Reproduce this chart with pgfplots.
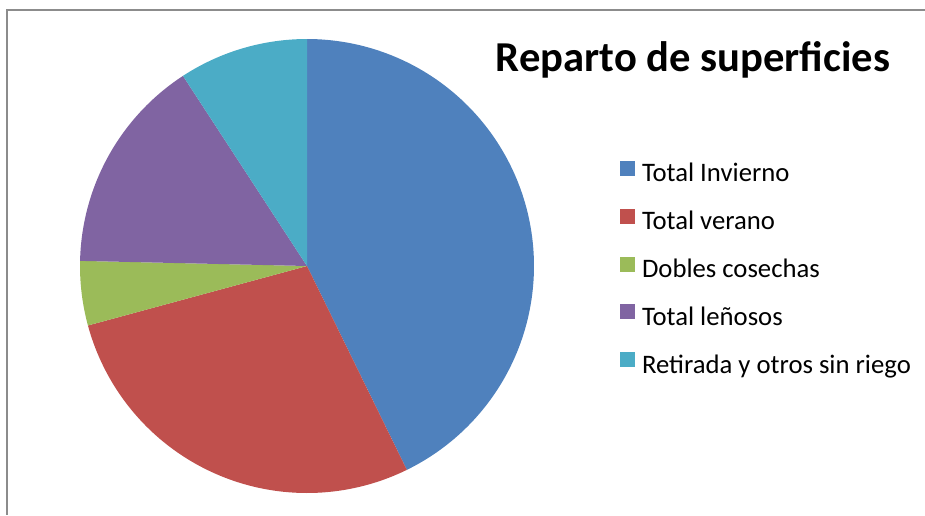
\documentclass[border=0pt]{standalone}
\usepackage{fontspec}
\setmainfont{Carlito}
\usepackage{pgfplots}
\usepackage{pgfplotstable}
\pgfplotsset{compat=1.18}
\usepgfplotslibrary{polar}

\definecolor{cA}{HTML}{4F81BD}
\definecolor{cB}{HTML}{C0504D}
\definecolor{cC}{HTML}{9BBB59}
\definecolor{cD}{HTML}{8064A2}
\definecolor{cE}{HTML}{4BACC6}
\definecolor{frame}{HTML}{8C8C8C}

% shares in percent, in legend order (clockwise from 12 o'clock)
\pgfplotstableread{
share
42.75
28.03
4.58
15.44
9.20
}\shares

\begin{document}
\begin{tikzpicture}[x=1pt,y=1pt]
% slice boundaries in degrees
\pgfmathsetmacro\aZ{90}
\pgfplotstablegetelem{0}{share}\of\shares \pgfmathsetmacro\aA{\aZ-3.6*\pgfplotsretval}
\pgfplotstablegetelem{1}{share}\of\shares \pgfmathsetmacro\aB{\aA-3.6*\pgfplotsretval}
\pgfplotstablegetelem{2}{share}\of\shares \pgfmathsetmacro\aC{\aB-3.6*\pgfplotsretval}
\pgfplotstablegetelem{3}{share}\of\shares \pgfmathsetmacro\aD{\aC-3.6*\pgfplotsretval}
\pgfplotstablegetelem{4}{share}\of\shares \pgfmathsetmacro\aE{\aD-3.6*\pgfplotsretval}
\begin{polaraxis}[
    hide axis,
    scale only axis,
    width=454pt, height=454pt,
    at={(307pt,249pt)}, anchor=origin,
    xmin=0, xmax=360, ymin=0, ymax=1,
    clip=false,
    samples=120,
    legend image code/.code={\fill[#1] (0pt,0pt) rectangle (15pt,15pt);},
    legend cell align=left,
    legend style={
        at={(axis description cs:1.189,0.491)}, anchor=west,
        draw=none, fill=none, inner sep=0pt,
        font=\fontsize{26.7}{31}\selectfont,
        nodes={inner sep=0pt, text height=18pt, text depth=6pt},
        row sep=20.9pt, column sep=7pt
    }
]
\addplot[fill=cA, draw=none, domain=\aA:\aZ] {1} -- (axis cs:0,0) -- cycle;
\addplot[fill=cB, draw=none, domain=\aB:\aA] {1} -- (axis cs:0,0) -- cycle;
\addplot[fill=cC, draw=none, domain=\aC:\aB] {1} -- (axis cs:0,0) -- cycle;
\addplot[fill=cD, draw=none, domain=\aD:\aC] {1} -- (axis cs:0,0) -- cycle;
\addplot[fill=cE, draw=none, domain=\aE:\aD] {1} -- (axis cs:0,0) -- cycle;
\legend{Total Invierno, Total verano, Dobles cosechas, Total leñosos, Retirada y otros sin riego}
\end{polaraxis}
\node[font=\bfseries\fontsize{42.6}{50}\selectfont, anchor=base] at (693,443) {Reparto de superficies};
\draw[frame, line width=1.5pt] (925,505) -- (7,505) -- (7,0);
\pgfresetboundingbox
\useasboundingbox (0,0) rectangle (925,515);
\end{tikzpicture}
\end{document}
